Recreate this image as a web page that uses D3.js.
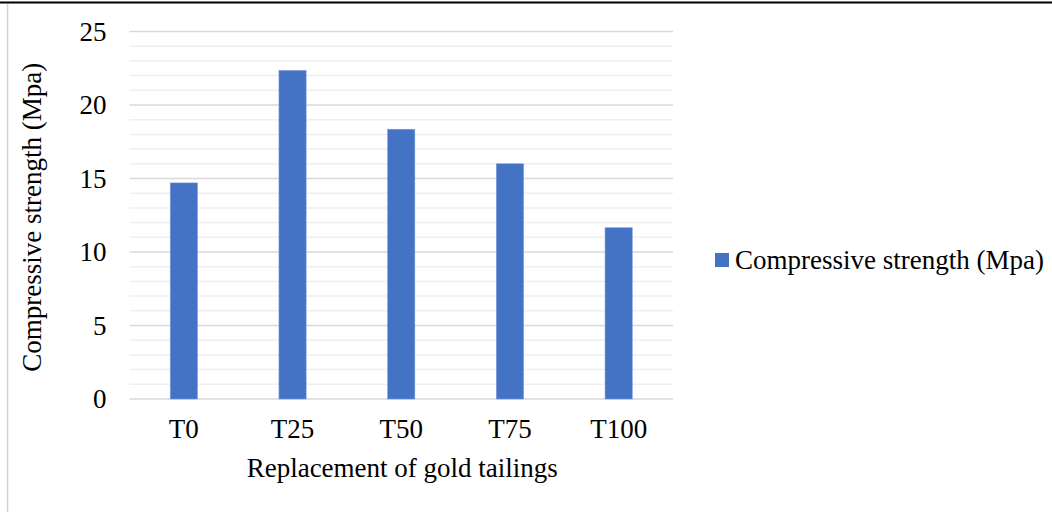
<!DOCTYPE html>
<html>
<head>
<meta charset="utf-8">
<script src="https://cdn.jsdelivr.net/npm/d3@7"></script>
<style>
  html, body { margin: 0; padding: 0; background: #fff; }
  svg { display: block; }
  text { font-family: "Liberation Serif", "Times New Roman", serif; fill: #000; }
</style>
</head>
<body>
<svg id="chart" width="1052" height="512"></svg>
<script>
// Compressive strength per gold-tailings replacement level
const categories = ["T0", "T25", "T50", "T75", "T100"];
const strength = [14.7, 22.35, 18.35, 16.0, 11.65];
const yTicks = [0, 5, 10, 15, 20, 25];
const seriesName = "Compressive strength (Mpa)";
const xTitle = "Replacement of gold tailings";
const yTitle = "Compressive strength (Mpa)";

const W = 1052, H = 512;
const FS = 27;
const plot = { left: 129.5, right: 673, top: 31.5, bottom: 399 };
const barColor = "#4472C4";

const svg = d3.select("#chart");

// page frame: dark rule along the top, light rule down the left side
svg.append("line").attr("x1", 0).attr("x2", W).attr("y1", 2.5).attr("y2", 2.5)
  .attr("stroke", "#000").attr("stroke-width", 2);
svg.append("line").attr("x1", 7.5).attr("x2", 7.5).attr("y1", 4).attr("y2", H)
  .attr("stroke", "#d4d4d4").attr("stroke-width", 1.5);

const x = d3.scaleBand().domain(categories).range([plot.left, plot.right]).padding(0);
const y = d3.scaleLinear().domain([0, 25]).range([plot.bottom, plot.top]);

// minor gridlines every 1 unit
const minor = d3.range(0, 26).filter(v => v % 5 !== 0);
svg.append("g").selectAll("line").data(minor).join("line")
  .attr("x1", plot.left).attr("x2", plot.right)
  .attr("y1", d => y(d)).attr("y2", d => y(d))
  .attr("stroke", "#efefef").attr("stroke-width", 1.5);

// major gridlines every 5 units
svg.append("g").selectAll("line").data(yTicks).join("line")
  .attr("x1", plot.left).attr("x2", plot.right)
  .attr("y1", d => y(d)).attr("y2", d => y(d))
  .attr("stroke", "#d9d9d9").attr("stroke-width", 1.5);

// y axis tick labels
const yAxis = d3.axisLeft(y).tickValues(yTicks).tickSize(0).tickPadding(0).tickFormat(d3.format("d"));
const gy = svg.append("g").attr("transform", `translate(${plot.left - 23},0)`).call(yAxis);
gy.attr("font-family", null).attr("font-size", null);
gy.select(".domain").remove();
gy.selectAll("text").attr("font-size", FS).attr("fill", "#000");

// x axis category labels
const xAxis = d3.axisBottom(x).tickSize(0).tickPadding(0);
const gx = svg.append("g").attr("transform", `translate(0,${plot.bottom + 20})`).call(xAxis);
gx.attr("font-family", null).attr("font-size", null);
gx.select(".domain").remove();
gx.selectAll("text").attr("font-size", FS).attr("fill", "#000");

// bars
const barW = x.bandwidth() * 0.25;
svg.append("g").selectAll("rect").data(categories).join("rect")
  .attr("x", d => x(d) + (x.bandwidth() - barW) / 2)
  .attr("y", (d, i) => y(strength[i]))
  .attr("width", barW)
  .attr("height", (d, i) => y(0) - y(strength[i]))
  .attr("fill", barColor)
  .attr("stroke", "#7a9bd8").attr("stroke-width", 0.6);

// axis titles
svg.append("text").attr("x", (plot.left + plot.right) / 2 + 1).attr("y", 477)
  .attr("text-anchor", "middle").attr("font-size", FS).text(xTitle);
svg.append("text")
  .attr("transform", `translate(41,${(plot.top + plot.bottom) / 2 + 2}) rotate(-90)`)
  .attr("text-anchor", "middle").attr("font-size", FS).text(yTitle);

// legend
const lg = svg.append("g").attr("transform", "translate(715,253)");
lg.append("rect").attr("width", 14).attr("height", 14).attr("fill", barColor);
lg.append("text").attr("x", 20).attr("y", 16).attr("font-size", FS).text(seriesName);
</script>
</body>
</html>
